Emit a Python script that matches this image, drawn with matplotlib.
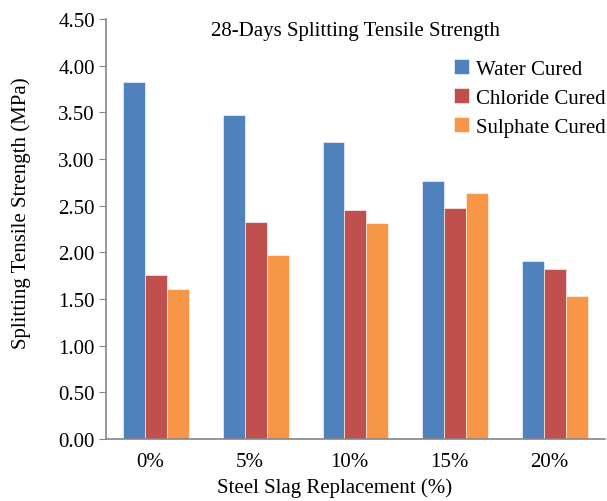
import numpy as np
import matplotlib.pyplot as plt
import matplotlib.transforms as mtrans

plt.rcParams['font.family'] = ['Liberation Serif', 'DejaVu Serif']

# data
replacement = ['0%', '5%', '10%', '15%', '20%']
water_cured = [3.83, 3.47, 3.18, 2.76, 1.91]
chloride_cured = [1.76, 2.33, 2.45, 2.48, 1.82]
sulphate_cured = [1.61, 1.97, 2.32, 2.64, 1.53]

series = [('Water Cured', water_cured, '#4F81BD'),
          ('Chloride Cured', chloride_cured, '#C0504D'),
          ('Sulphate Cured', sulphate_cured, '#F79646')]

fs = 15
fig = plt.figure(figsize=(6.07, 5.02), dpi=100)
ax = fig.add_axes([0.1746, 0.1235, 0.822, 0.8365])

x = np.arange(len(replacement))
w = 0.22
for i, (name, vals, col) in enumerate(series):
    ax.bar(x + (i - 1) * w, vals, width=w, color=col, label=name,
           edgecolor='white', linewidth=0.4)

ax.set_xlim(-0.5, len(replacement) - 0.5)
ax.set_ylim(0, 4.5)
ax.set_yticks(np.arange(0, 4.51, 0.5))
ax.set_yticklabels(['%.2f' % v for v in np.arange(0, 4.51, 0.5)])
ax.set_xticks(x)
ax.set_xticklabels(replacement)

# axis styling like the office chart
for s in ['top', 'right']:
    ax.spines[s].set_visible(False)
for s in ['left', 'bottom']:
    ax.spines[s].set_color('#868686')
    ax.spines[s].set_linewidth(1.2)
ax.tick_params(axis='y', direction='out', length=5, color='#868686',
               labelsize=fs, pad=3)
ax.tick_params(axis='x', length=0, labelsize=fs, pad=9)

# category labels sit a little left of the group centres in the original
shift = mtrans.ScaledTranslation(-6 / 100, 0, fig.dpi_scale_trans)
for lab in ax.get_xticklabels():
    lab.set_transform(lab.get_transform() + shift)

ax.set_xlabel('Steel Slag Replacement (%)', fontsize=fs)
ax.xaxis.set_label_coords(0.458, -0.092)
ax.set_ylabel('Splitting Tensile Strength (MPa)', fontsize=fs)
ax.yaxis.set_label_coords(-0.150, 0.54)
ax.text(0.5, 0.973, '28-Days Splitting Tensile Strength', transform=ax.transAxes,
        ha='center', va='center', fontsize=fs)

fig.legend(loc='upper left', bbox_to_anchor=(0.748, 0.880), frameon=False,
           fontsize=fs, handlelength=0.7, handleheight=0.7,
           handletextpad=0.35, labelspacing=0.45, borderpad=0,
           borderaxespad=0)

fig.savefig('out.png', dpi=100)
